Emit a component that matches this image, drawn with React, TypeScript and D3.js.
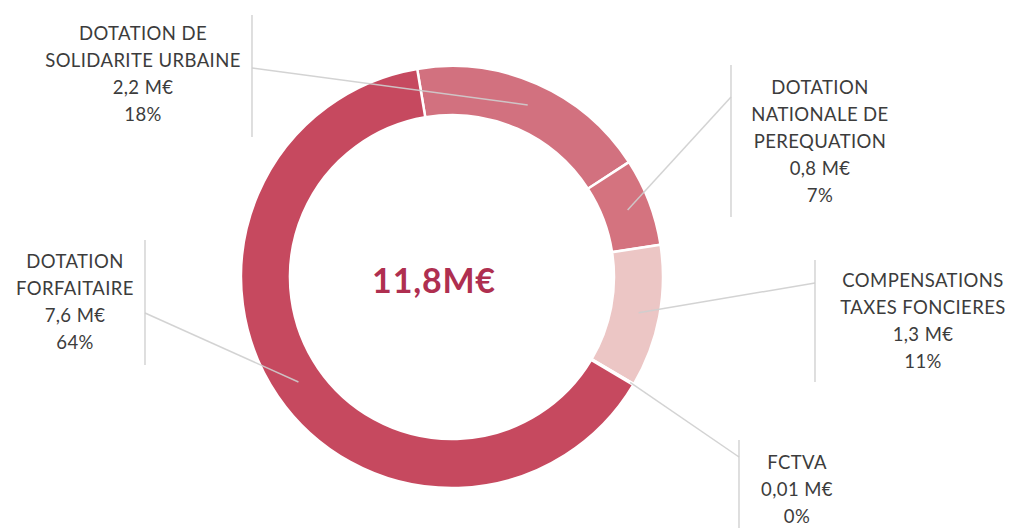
import React from "react";
import * as d3 from "d3";

const categories = [
  "DOTATION DE SOLIDARITE URBAINE",
  "DOTATION NATIONALE DE PEREQUATION",
  "COMPENSATIONS TAXES FONCIERES",
  "FCTVA",
  "DOTATION FORFAITAIRE",
];
const labelLines = [
  ["DOTATION DE", "SOLIDARITE URBAINE"],
  ["DOTATION", "NATIONALE DE", "PEREQUATION"],
  ["COMPENSATIONS", "TAXES FONCIERES"],
  ["FCTVA"],
  ["DOTATION", "FORFAITAIRE"],
];
const values = [2.2, 0.8, 1.3, 0.01, 7.6];
const valueLabels = ["2,2 M€", "0,8 M€", "1,3 M€", "0,01 M€", "7,6 M€"];
const percentLabels = ["18%", "7%", "11%", "0%", "64%"];
const totalLabel = "11,8M€";
const colors = ["#D2717F", "#D4737F", "#ECC6C5", "#D9A0A8", "#C6495F"];

// layout (not data)
const cx = 452;
const cy = 277;
const outerR = 211;
const innerR = 162;
const layout = [
  { tx: 143, ty: 40, vx: 252, vy1: 15, vy2: 137, jy: 68, lr: 188 },
  { tx: 820, ty: 94, vx: 731, vy1: 65, vy2: 217, jy: 97, lr: 188 },
  { tx: 923, ty: 287, vx: 815, vy1: 260, vy2: 382, jy: 283, lr: 190 },
  { tx: 797, ty: 469, vx: 739, vy1: 440, vy2: 540, jy: 457, lr: 207 },
  { tx: 75, ty: 268, vx: 145, vy1: 240, vy2: 365, jy: 313, lr: 186 },
];
const lineH = 27;

export default function App() {
  const start = (-9.5 * Math.PI) / 180;
  const pie = d3
    .pie<number>()
    .sort(null)
    .value((d) => d)
    .startAngle(start)
    .endAngle(start + 2 * Math.PI);
  const arcs = pie(values);
  const arc = d3.arc<d3.PieArcDatum<number>>().innerRadius(innerR).outerRadius(outerR);

  return (
    <svg
      width={1011}
      height={528}
      style={{ position: "absolute", left: 0, top: 0, background: "#fff" }}
      fontFamily="Lato, 'Open Sans', sans-serif"
    >
      <g transform={`translate(${cx},${cy})`}>
        {arcs.map((a, i) => (
          <path key={i} d={arc(a) || ""} fill={colors[i]} stroke="#fff" strokeWidth={2.5} />
        ))}
      </g>
      {arcs.map((a, i) => {
        const L = layout[i];
        const la = d3.arc<d3.PieArcDatum<number>>().innerRadius(L.lr).outerRadius(L.lr);
        const [ex, ey] = la.centroid(a);
        return (
          <g key={i}>
            <line x1={L.vx} x2={L.vx} y1={L.vy1} y2={L.vy2} stroke="#c9c9c9" strokeWidth={1.2} />
            <line x1={L.vx} y1={L.jy} x2={cx + ex} y2={cy + ey} stroke="#cfcfcf" strokeWidth={1.5} opacity={0.9} />
          </g>
        );
      })}
      {labelLines.map((lines, i) => {
        const L = layout[i];
        const all = [...lines, valueLabels[i], percentLabels[i]];
        return (
          <text key={i} x={L.tx} y={L.ty} textAnchor="middle" fontSize={18.5} letterSpacing={0.4} fill="#3c3c3c">
            {all.map((t, j) => (
              <tspan key={j} x={L.tx} y={L.ty + j * lineH}>
                {t}
              </tspan>
            ))}
          </text>
        );
      })}
      <text x={434} y={293} textAnchor="middle" fontSize={34} fontWeight="bold" letterSpacing={0.8} fill="#AF2F50">
        {totalLabel}
      </text>
    </svg>
  );
}
